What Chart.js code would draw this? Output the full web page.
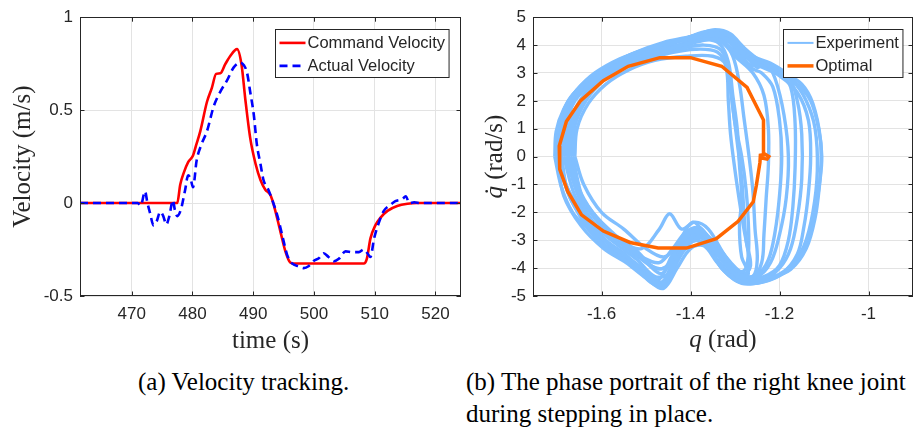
<!DOCTYPE html>
<html>
<head>
<meta charset="utf-8">
<script src="https://cdn.jsdelivr.net/npm/chart.js@4.4.0/dist/chart.umd.min.js"></script>
<style>
  body { margin: 0; background: #fff; width: 917px; height: 428px; overflow: hidden; position: relative; }
  #velChart { position: absolute; left: 0; top: 0; }
  #phaseChart { position: absolute; left: 465px; top: 0; }
  .caption { position: absolute; font-family: 'Liberation Serif', 'Times New Roman', serif; font-size: 25px;
             color: #000; white-space: nowrap; line-height: 32px; }
</style>
</head>
<body>
<canvas id="velChart" width="465" height="360"></canvas>
<canvas id="phaseChart" width="452" height="360"></canvas>
<div class="caption" style="left:138px; top:366px;">(a) Velocity tracking.</div>
<div class="caption" style="left:466px; top:366px;">(b) The phase portrait of the right knee joint<br>during stepping in place.</div>
<script>
// ---- data: velocity tracking ----
const timeTicks = [470, 480, 490, 500, 510, 520];
const velTicks = [-0.5, 0, 0.5, 1];

const cmdTime = [461.5, 477.5, 478.0, 478.6, 479.3, 480.1, 480.6, 481.3, 482.4, 483.2, 483.9, 484.6, 485.4, 486.2,
    487.35, 488.1, 488.7, 489.5, 490.4, 491.2, 492.0, 492.8, 493.3, 494.5, 495.3, 496.1, 496.7, 508.2, 508.7,
    509.3, 510.1, 511.0, 512.1, 513.7, 515.4, 517.0, 524.5];
const cmdVel = [0, 0, 0.1, 0.165, 0.22, 0.256, 0.31, 0.387, 0.545, 0.62, 0.695, 0.698, 0.747, 0.79,
    0.828, 0.74, 0.56, 0.352, 0.21, 0.124, 0.072, 0.045, 0.0, -0.156, -0.26, -0.32, -0.325, -0.325, -0.3,
    -0.19, -0.12, -0.077, -0.042, -0.016, -0.004, 0, 0];

const actTime = [461.5, 471.0, 471.5, 472.2, 472.6, 473.0, 473.6, 474.1, 474.7, 475.2, 475.7, 476.2, 476.8, 477.1,
    477.5, 478.1, 478.8, 479.3, 479.7, 480.1, 480.7, 481.5, 482.4, 483.5, 484.6, 485.7, 486.8, 487.9, 488.5,
    489.0, 489.5, 490.1, 490.6, 491.2, 491.7, 492.5, 493.1, 494.0, 494.8, 495.6, 496.4, 497.5, 498.3, 499.1,
    500.0, 500.8, 501.6, 502.4, 503.3, 504.1, 505.2, 506.3, 507.4, 508.2, 508.8, 509.3, 509.9, 510.7, 511.5,
    512.6, 513.4, 514.6, 515.1, 515.7, 516.5, 517.5, 524.5];
const actVel = [0, 0, -0.013, 0.063, 0.0, -0.05, -0.12, -0.1, -0.047, -0.07, -0.115, -0.07, 0.016, -0.035,
    -0.07, -0.035, 0.07, 0.15, 0.13, 0.085, 0.23, 0.317, 0.387, 0.52, 0.6, 0.66, 0.73, 0.756, 0.74,
    0.70, 0.6, 0.475, 0.317, 0.21, 0.124, 0.072, 0.02, -0.07, -0.176, -0.28, -0.325, -0.34, -0.35, -0.34,
    -0.31, -0.297, -0.27, -0.29, -0.313, -0.30, -0.26, -0.264, -0.264, -0.25, -0.27, -0.29, -0.19, -0.104, -0.042,
    -0.009, 0.01, 0.023, 0.037, 0.0, 0.004, 0, 0];

// ---- data: phase portrait (q, qdot) ----
const qTicks = [-1.6, -1.4, -1.2, -1];
const qdTicks = [-5, -4, -3, -2, -1, 0, 1, 2, 3, 4, 5];

const loopA = [[-1.705,0],[-1.702,0.9],[-1.685,1.7],[-1.655,2.4],[-1.615,3.0],[-1.56,3.5],[-1.50,3.85],[-1.44,4.1],[-1.38,4.4],[-1.345,4.55],[-1.31,4.4],[-1.28,3.9],[-1.24,3.4],[-1.19,3.0],[-1.15,2.6],[-1.125,1.9],[-1.108,0.6],[-1.108,-0.6],[-1.12,-2.0],[-1.135,-3.0],[-1.17,-3.9],[-1.21,-4.35],[-1.26,-4.55],[-1.30,-4.4],[-1.34,-3.8],[-1.37,-3.2],[-1.40,-3.3],[-1.43,-4.0],[-1.46,-4.72],[-1.49,-4.5],[-1.53,-3.9],[-1.58,-3.4],[-1.63,-2.6],[-1.665,-2.0],[-1.69,-1.1],[-1.705,0]];
const loopB = [[-1.66,0],[-1.655,1.0],[-1.63,1.9],[-1.59,2.6],[-1.54,3.1],[-1.48,3.45],[-1.41,3.6],[-1.35,3.6],[-1.32,3.3],[-1.31,2.4],[-1.30,1.2],[-1.285,0],[-1.275,-1.2],[-1.27,-2.4],[-1.27,-3.5],[-1.28,-4.1],[-1.31,-4.0],[-1.34,-3.5],[-1.37,-2.8],[-1.40,-2.7],[-1.43,-3.2],[-1.46,-3.6],[-1.50,-3.3],[-1.55,-2.6],[-1.60,-2.0],[-1.64,-1.0],[-1.66,0]];
const loopC = [[-1.685,0],[-1.68,1.1],[-1.66,2.0],[-1.62,2.7],[-1.57,3.2],[-1.51,3.6],[-1.44,3.9],[-1.38,4.15],[-1.34,4.2],[-1.31,3.9],[-1.27,3.3],[-1.23,3.3],[-1.21,2.8],[-1.19,1.5],[-1.18,0],[-1.185,-1.5],[-1.20,-2.8],[-1.22,-3.8],[-1.25,-4.3],[-1.29,-4.2],[-1.33,-3.4],[-1.36,-2.9],[-1.39,-2.8],[-1.42,-3.4],[-1.45,-4.2],[-1.48,-4.3],[-1.52,-3.7],[-1.57,-3.1],[-1.62,-2.4],[-1.66,-1.4],[-1.685,0]];
const loopD = [[-1.675,0],[-1.67,1.0],[-1.65,1.9],[-1.61,2.6],[-1.56,3.2],[-1.50,3.6],[-1.43,3.85],[-1.37,4.0],[-1.33,3.8],[-1.315,3.0],[-1.305,1.8],[-1.295,0.5],[-1.285,-0.8],[-1.28,-2.0],[-1.275,-3.0],[-1.265,-3.9],[-1.28,-4.2],[-1.32,-3.6],[-1.36,-2.6],[-1.39,-2.35],[-1.42,-2.6],[-1.447,-2.05],[-1.47,-2.6],[-1.51,-3.3],[-1.56,-3.0],[-1.61,-2.3],[-1.65,-1.3],[-1.675,0]];
const loopE = [[-1.695,0],[-1.69,1.2],[-1.67,2.0],[-1.63,2.7],[-1.58,3.3],[-1.52,3.75],[-1.45,4.05],[-1.39,4.3],[-1.35,4.4],[-1.31,4.1],[-1.27,3.5],[-1.22,3.2],[-1.17,2.7],[-1.14,2.0],[-1.12,1.0],[-1.115,-0.5],[-1.125,-2.0],[-1.145,-3.2],[-1.18,-4.0],[-1.23,-4.4],[-1.28,-4.4],[-1.32,-3.9],[-1.35,-3.3],[-1.38,-2.9],[-1.41,-3.1],[-1.44,-3.8],[-1.465,-4.5],[-1.50,-4.1],[-1.55,-3.5],[-1.60,-2.9],[-1.645,-2.0],[-1.68,-1.0],[-1.695,0]];
const loopF = [[-1.67,0],[-1.665,1.1],[-1.64,2.0],[-1.60,2.8],[-1.55,3.3],[-1.49,3.65],[-1.42,3.95],[-1.36,4.2],[-1.33,4.1],[-1.30,3.6],[-1.26,3.0],[-1.235,2.2],[-1.225,1.0],[-1.225,-0.3],[-1.23,-1.5],[-1.235,-2.8],[-1.24,-3.8],[-1.26,-4.3],[-1.30,-4.1],[-1.34,-3.2],[-1.37,-2.7],[-1.395,-2.35],[-1.42,-2.9],[-1.45,-3.9],[-1.48,-4.0],[-1.52,-3.4],[-1.57,-2.8],[-1.62,-2.0],[-1.655,-1.0],[-1.67,0]];
const loopG = [[-1.69,0],[-1.685,1.0],[-1.665,1.9],[-1.625,2.6],[-1.575,3.2],[-1.515,3.65],[-1.45,4.0],[-1.39,4.35],[-1.34,4.45],[-1.30,4.2],[-1.26,3.6],[-1.22,3.35],[-1.18,2.9],[-1.16,2.0],[-1.15,0.8],[-1.15,-0.8],[-1.16,-2.2],[-1.175,-3.3],[-1.20,-4.0],[-1.24,-4.45],[-1.29,-4.5],[-1.33,-4.0],[-1.36,-3.3],[-1.39,-3.0],[-1.42,-3.5],[-1.455,-4.5],[-1.48,-4.6],[-1.52,-4.0],[-1.57,-3.5],[-1.62,-2.8],[-1.66,-1.8],[-1.685,-0.8],[-1.69,0]];
const loopH = [[-1.68,0],[-1.675,1.0],[-1.655,1.8],[-1.62,2.5],[-1.57,3.0],[-1.51,3.45],[-1.45,3.7],[-1.39,3.85],[-1.34,3.75],[-1.32,3.2],[-1.315,2.0],[-1.31,0.8],[-1.30,-0.5],[-1.29,-1.6],[-1.28,-2.6],[-1.27,-3.5],[-1.27,-4.1],[-1.30,-4.2],[-1.33,-3.7],[-1.36,-2.9],[-1.38,-2.55],[-1.41,-2.7],[-1.44,-3.3],[-1.47,-3.8],[-1.51,-3.6],[-1.56,-3.1],[-1.61,-2.5],[-1.65,-1.5],[-1.68,0]];
const loopI = [[-1.70,0],[-1.695,1.1],[-1.675,2.0],[-1.64,2.6],[-1.59,3.2],[-1.53,3.7],[-1.46,4.1],[-1.40,4.3],[-1.355,4.5],[-1.32,4.4],[-1.28,3.7],[-1.25,3.2],[-1.23,3.36],[-1.20,3.0],[-1.175,2.5],[-1.165,1.2],[-1.165,-0.4],[-1.17,-1.8],[-1.18,-3.0],[-1.20,-3.9],[-1.235,-4.3],[-1.27,-4.35],[-1.31,-3.9],[-1.345,-3.2],[-1.375,-2.85],[-1.40,-3.0],[-1.43,-3.7],[-1.455,-4.6],[-1.485,-4.4],[-1.53,-3.8],[-1.58,-3.2],[-1.625,-2.5],[-1.67,-1.5],[-1.70,0]];
const loopJ = [[-1.69,0],[-1.69,1.0],[-1.67,1.9],[-1.635,2.6],[-1.585,3.15],[-1.52,3.65],[-1.455,4.0],[-1.39,4.25],[-1.34,4.35],[-1.30,4.1],[-1.26,3.5],[-1.21,3.1],[-1.16,2.6],[-1.13,2.0],[-1.112,1.0],[-1.105,0],[-1.11,-1.0],[-1.12,-2.2],[-1.14,-3.3],[-1.175,-4.05],[-1.22,-4.35],[-1.27,-4.5],[-1.31,-4.3],[-1.345,-3.6],[-1.375,-3.05],[-1.405,-3.1],[-1.435,-3.9],[-1.46,-4.6],[-1.49,-4.3],[-1.54,-3.7],[-1.59,-3.2],[-1.64,-2.3],[-1.675,-1.3],[-1.69,0]];
const loopK = [[-1.665,0],[-1.66,1.1],[-1.635,2.0],[-1.595,2.75],[-1.545,3.3],[-1.485,3.7],[-1.42,4.0],[-1.37,4.2],[-1.335,4.05],[-1.315,3.4],[-1.305,2.2],[-1.295,1.0],[-1.29,-0.3],[-1.285,-1.5],[-1.29,-2.5],[-1.285,-3.6],[-1.27,-4.2],[-1.29,-4.4],[-1.33,-4.0],[-1.36,-3.1],[-1.385,-2.6],[-1.41,-2.8],[-1.44,-3.6],[-1.465,-4.2],[-1.50,-3.8],[-1.55,-3.2],[-1.60,-2.5],[-1.64,-1.6],[-1.665,0]];
const loopL = [[-1.70,0],[-1.69,1.3],[-1.665,2.2],[-1.62,2.9],[-1.56,3.45],[-1.49,3.9],[-1.42,4.2],[-1.37,4.4],[-1.33,4.3],[-1.295,3.8],[-1.26,3.15],[-1.24,3.0],[-1.215,2.5],[-1.20,1.3],[-1.195,0],[-1.20,-1.4],[-1.21,-2.7],[-1.225,-3.7],[-1.25,-4.25],[-1.28,-4.35],[-1.32,-3.8],[-1.355,-3.0],[-1.38,-2.7],[-1.41,-2.9],[-1.44,-3.5],[-1.47,-4.4],[-1.50,-4.3],[-1.54,-3.6],[-1.59,-3.0],[-1.635,-2.2],[-1.675,-1.2],[-1.70,0]];
const loopM = [[-1.70,0],[-1.695,0.8],[-1.68,1.6],[-1.65,2.3],[-1.60,3.0],[-1.54,3.55],[-1.47,3.95],[-1.41,4.25],[-1.36,4.5],[-1.325,4.35],[-1.29,3.8],[-1.25,3.3],[-1.20,2.9],[-1.16,2.3],[-1.135,1.3],[-1.13,0],[-1.135,-1.3],[-1.145,-2.5],[-1.16,-3.5],[-1.195,-4.2],[-1.24,-4.5],[-1.285,-4.55],[-1.325,-4.1],[-1.355,-3.4],[-1.385,-3.0],[-1.415,-3.3],[-1.445,-4.2],[-1.465,-4.65],[-1.50,-4.35],[-1.545,-3.8],[-1.595,-3.3],[-1.645,-2.5],[-1.685,-1.4],[-1.70,0]];
const loopN = [[-1.675,0],[-1.67,1.2],[-1.645,2.1],[-1.60,2.85],[-1.55,3.35],[-1.49,3.75],[-1.43,4.0],[-1.37,4.3],[-1.33,4.2],[-1.305,3.6],[-1.29,2.6],[-1.28,1.4],[-1.27,0.2],[-1.26,-1.2],[-1.255,-2.6],[-1.25,-3.7],[-1.26,-4.3],[-1.30,-4.3],[-1.34,-3.7],[-1.37,-2.9],[-1.40,-2.9],[-1.43,-3.4],[-1.46,-4.0],[-1.49,-3.9],[-1.535,-3.3],[-1.58,-2.7],[-1.625,-1.9],[-1.66,-1.0],[-1.675,0]];
const expLoops = [loopA, loopB, loopC, loopD, loopE, loopF, loopG, loopH, loopI, loopJ, loopK, loopL, loopM, loopN];

const optQ = [-1.236, -1.236, -1.273, -1.330, -1.400, -1.469, -1.540, -1.596, -1.647, -1.679, -1.695, -1.694, -1.676,
    -1.645, -1.596, -1.536, -1.473, -1.409, -1.342, -1.293, -1.259, -1.252, -1.244, -1.243, -1.232, -1.224, -1.228, -1.238, -1.236];
const optQd = [0.02, 1.31, 2.48, 3.24, 3.55, 3.55, 3.24, 2.72, 2.01, 1.26, 0.38, -0.45, -1.25,
    -2.09, -2.67, -3.08, -3.28, -3.28, -2.94, -2.32, -1.62, -1.03, -0.21, 0.05, 0.08, 0.0, -0.09, -0.06, 0.02];

// ---- helpers ----
const ink = '#262626';
const tickFont = { family: "'Liberation Sans', Arial, sans-serif", size: 17 };
const legendFont = "16.5px 'Liberation Sans', Arial, sans-serif";
const titleFont = '"Liberation Serif", "Times New Roman", serif';

const drawParts = (ctx, parts, cx, cy, rot) => {
    ctx.save();
    ctx.translate(cx, cy);
    ctx.rotate(rot);
    ctx.textBaseline = 'middle';
    ctx.textAlign = 'left';
    ctx.fillStyle = ink;
    const fonts = parts.map(p => (p.italic ? 'italic ' : '') + '25px ' + titleFont);
    let total = 0;
    const widths = parts.map((p, i) => {
        ctx.font = fonts[i];
        const w = ctx.measureText(p.text).width;
        total += w;
        return w;
    });
    let x = -total / 2;
    parts.forEach((p, i) => {
        ctx.font = fonts[i];
        ctx.fillText(p.text, x, 0);
        x += widths[i];
    });
    ctx.restore();
};

// box, inward ticks, axis titles and legend the way MATLAB draws them
const matlabBox = {
    id: 'matlabBox',
    afterDraw(chart, args, opts) {
        const ctx = chart.ctx;
        const a = chart.chartArea;
        const xs = chart.scales.x;
        const ys = chart.scales.y;
        ctx.save();
        ctx.strokeStyle = ink;
        ctx.lineWidth = 1;
        ctx.strokeRect(Math.round(a.left) + 0.5, Math.round(a.top) + 0.5,
            Math.round(a.right - a.left) - 1, Math.round(a.bottom - a.top) - 1);
        ctx.beginPath();
        xs.ticks.forEach(t => {
            const px = Math.round(xs.getPixelForValue(t.value)) + 0.5;
            ctx.moveTo(px, a.bottom); ctx.lineTo(px, a.bottom - 4.5);
            ctx.moveTo(px, a.top); ctx.lineTo(px, a.top + 4.5);
        });
        ys.ticks.forEach(t => {
            const py = Math.round(ys.getPixelForValue(t.value)) + 0.5;
            ctx.moveTo(a.left, py); ctx.lineTo(a.left + 4.5, py);
            ctx.moveTo(a.right, py); ctx.lineTo(a.right - 4.5, py);
        });
        ctx.stroke();

        drawParts(ctx, opts.xTitle, (a.left + a.right) / 2, opts.xTitleY, 0);
        drawParts(ctx, opts.yTitle, opts.yTitleX, (a.top + a.bottom) / 2, -Math.PI / 2);

        // legend box
        const items = opts.legendItems.map(i => chart.data.datasets[i]);
        ctx.font = legendFont;
        const textW = Math.max(...items.map(d => ctx.measureText(d.label).width));
        const boxW = 32 + textW + 4;
        const boxH = 48;
        const bx = Math.round(a.right - opts.legendRight - boxW) + 0.5;
        const by = Math.round(a.top + opts.legendTop) + 0.5;
        ctx.fillStyle = '#fff';
        ctx.fillRect(bx, by, boxW, boxH);
        ctx.strokeStyle = ink;
        ctx.lineWidth = 1;
        ctx.strokeRect(bx, by, boxW, boxH);
        items.forEach((d, k) => {
            const ry = by + 13.4 + k * 23;
            ctx.beginPath();
            ctx.strokeStyle = d.borderColor;
            ctx.lineWidth = d.legendWidth || d.borderWidth;
            ctx.setLineDash(d.borderDash || []);
            ctx.moveTo(bx + 4, ry);
            ctx.lineTo(bx + 30, ry);
            ctx.stroke();
            ctx.setLineDash([]);
            ctx.fillStyle = ink;
            ctx.textAlign = 'left';
            ctx.textBaseline = 'middle';
            ctx.fillText(d.label, bx + 32, ry + 0.5);
        });
        ctx.restore();
    }
};

const makeAxis = (min, max, tickVals, size, isX) => ({
    type: 'linear',
    min: min,
    max: max,
    afterBuildTicks: (s) => { s.ticks = tickVals.map(v => ({ value: v })); },
    afterFit: (s) => { if (isX) { s.height = size; } else { s.width = size; } },
    ticks: {
        font: tickFont,
        color: ink,
        padding: isX ? 8 : 7,
        autoSkip: false,
        maxRotation: 0,
        callback: (v) => String(v)
    },
    grid: { color: '#e3e3e3', lineWidth: 1, drawTicks: false },
    border: { display: false }
});

// ---- velocity chart ----
new Chart(document.getElementById('velChart').getContext('2d'), {
    type: 'line',
    data: {
        datasets: [{
            label: 'Command Velocity',
            data: cmdTime.map((t, i) => ({ x: t, y: cmdVel[i] })),
            borderColor: '#ff0000',
            borderWidth: 2.6,
            pointRadius: 0,
            cubicInterpolationMode: 'monotone',
            fill: false,
            order: 1
        }, {
            label: 'Actual Velocity',
            data: actTime.map((t, i) => ({ x: t, y: actVel[i] })),
            borderColor: '#0000ff',
            borderWidth: 2.6,
            borderDash: [8, 5],
            pointRadius: 0,
            cubicInterpolationMode: 'monotone',
            fill: false,
            order: 0
        }]
    },
    options: {
        responsive: false,
        animation: false,
        events: [],
        layout: { padding: { top: 10, right: 4, left: 0, bottom: 0 } },
        scales: {
            x: makeAxis(461.5, 524.2, timeTicks, 64, true),
            y: makeAxis(-0.5, 1, velTicks, 80, false)
        },
        plugins: {
            legend: { display: false },
            tooltip: { enabled: false },
            matlabBox: {
                xTitle: [{ text: 'time (s)' }],
                yTitle: [{ text: 'Velocity (m/s)' }],
                xTitleY: 341,
                yTitleX: 23,
                legendItems: [0, 1],
                legendRight: 12,
                legendTop: 11.7
            }
        }
    },
    plugins: [matlabBox]
});

// ---- phase portrait chart ----
const phaseSets = expLoops.map((loop) => ({
    label: 'Experiment',
    data: loop.map(p => ({ x: p[0], y: p[1] })),
    showLine: true,
    borderColor: '#80bfff',
    borderWidth: 3.4,
    legendWidth: 2,
    pointRadius: 0,
    tension: 0.35,
    order: 1
}));
phaseSets.push({
    label: 'Optimal',
    data: optQ.map((q, i) => ({ x: q, y: optQd[i] })),
    showLine: true,
    borderColor: '#ff6600',
    borderWidth: 3.5,
    pointRadius: 0,
    tension: 0,
    order: 0
});

new Chart(document.getElementById('phaseChart').getContext('2d'), {
    type: 'scatter',
    data: { datasets: phaseSets },
    options: {
        responsive: false,
        animation: false,
        events: [],
        layout: { padding: { top: 12, right: 4, left: 0, bottom: 0 } },
        scales: {
            x: makeAxis(-1.754, -0.9, qTicks, 64, true),
            y: makeAxis(-5, 5, qdTicks, 68, false)
        },
        plugins: {
            legend: { display: false },
            tooltip: { enabled: false },
            matlabBox: {
                xTitle: [{ text: 'q', italic: true }, { text: ' (rad)' }],
                yTitle: [{ text: 'q\u0307', italic: true }, { text: ' (rad/s)' }],
                xTitleY: 340,
                yTitleX: 30,
                legendItems: [0, expLoops.length],
                legendRight: 11,
                legendTop: 11.6
            }
        }
    },
    plugins: [matlabBox]
});
</script>
</body>
</html>
